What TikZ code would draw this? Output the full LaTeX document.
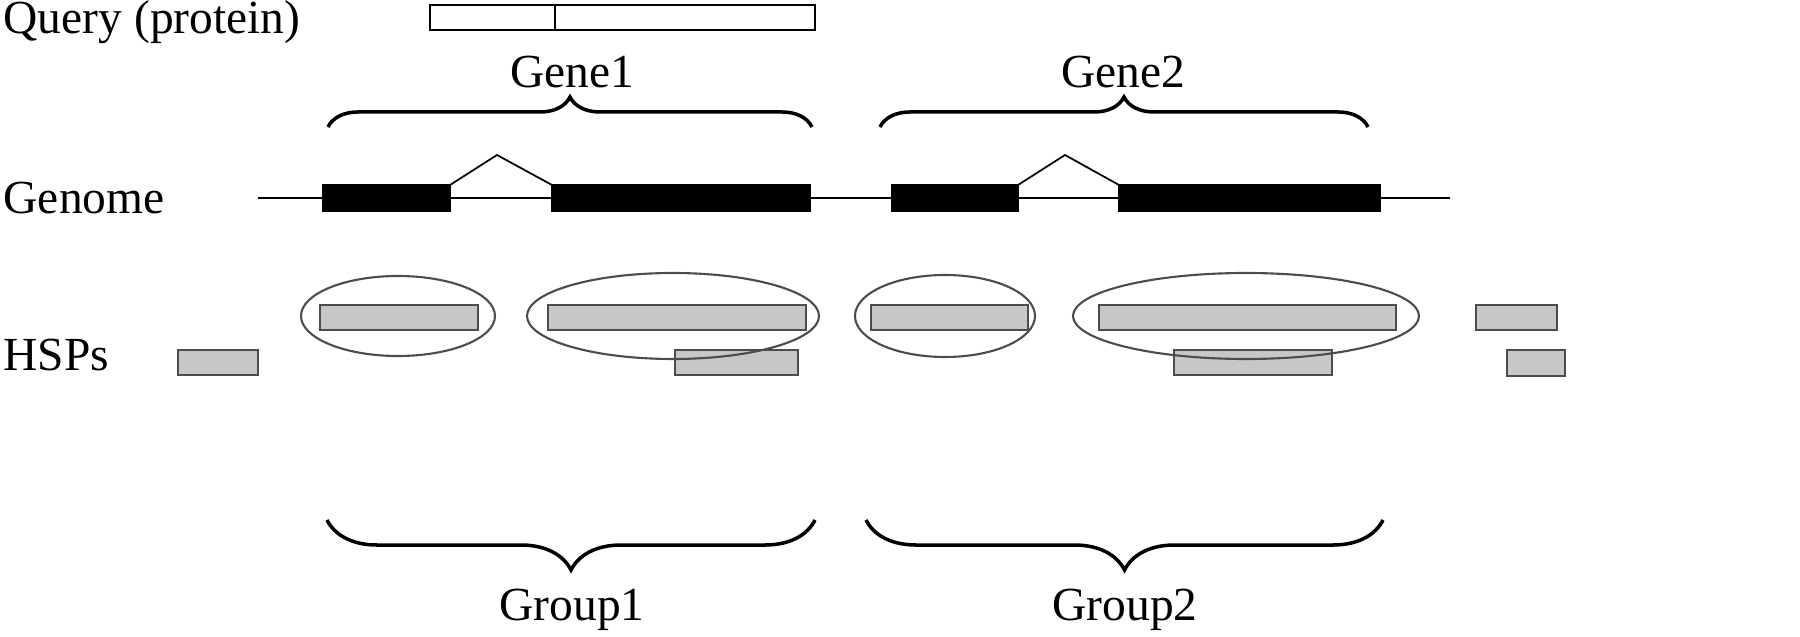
\documentclass[tikz,border=0pt]{standalone}
\usepackage{fontspec}
\setmainfont{Liberation Serif}
\usetikzlibrary{decorations.pathreplacing}
\begin{document}
\begin{tikzpicture}[x=0.01cm,y=-0.01cm,
  lbl/.style={font=\fontsize{13.5}{16}\selectfont,inner sep=0pt},
  exon/.style={fill=black,draw=black},
  hsp/.style={fill=black!22,draw=black!70,line width=0.5pt},
  grp/.style={draw=black!70,line width=0.6pt},
  brc/.style={decorate,decoration={brace,amplitude=0.3cm},line width=1pt},
  brcb/.style={decorate,decoration={brace,amplitude=0.5cm},line width=1pt}]
\useasboundingbox (0,0) rectangle (1800,637);
\node[lbl,anchor=west] (q) at (3,22) {Query (protein)};
\draw (430,5) rectangle (815,30);
\draw (555,5) -- (555,30);
\node[lbl] (g1) at (572,72) {Gene1};
\node[lbl] (g2) at (1123,72) {Gene2};
\draw[brc] (328,127) -- (812,127);
\draw[brc] (880,127) -- (1368,127);
\node[lbl,anchor=west] (gen) at (3,198) {Genome};
\draw[line width=0.5pt] (258,198) -- (1450,198);
\draw[exon] (323,185) rectangle (450,211);
\draw[exon] (552,185) rectangle (810,211);
\draw[exon] (892,185) rectangle (1018,211);
\draw[exon] (1119,185) rectangle (1380,211);
\draw[line width=0.5pt] (450,185) -- (497,155) -- (552,185);
\draw[line width=0.5pt] (1018,185) -- (1065,155) -- (1119,185);
\node[lbl,anchor=west] (hs) at (3,355) {HSPs};
\draw[hsp] (320,305) rectangle (478,330);
\draw[hsp] (548,305) rectangle (806,330);
\draw[hsp] (871,305) rectangle (1028,330);
\draw[hsp] (1099,305) rectangle (1396,330);
\draw[hsp] (1476,305) rectangle (1557,330);
\draw[hsp] (178,350) rectangle (258,375);
\draw[hsp] (675,350) rectangle (798,375);
\draw[hsp] (1174,350) rectangle (1332,375);
\draw[hsp] (1507,350) rectangle (1565,376);
\draw[grp] (398,316) ellipse [x radius=97, y radius=40];
\draw[grp] (673,316) ellipse [x radius=146, y radius=43];
\draw[grp] (945,316) ellipse [x radius=90, y radius=41];
\draw[grp] (1246,316) ellipse [x radius=173, y radius=43];
\draw[brcb] (815,520) -- (327,520);
\draw[brcb] (1383,520) -- (866,520);
\node[lbl] (gr1) at (572,610) {Group1};
\node[lbl] (gr2) at (1125,610) {Group2};
\end{tikzpicture}
\end{document}
